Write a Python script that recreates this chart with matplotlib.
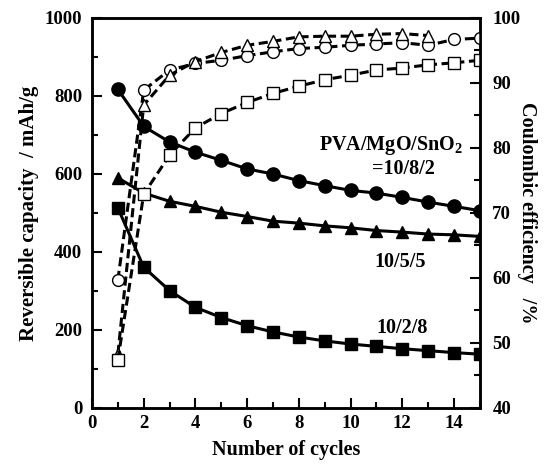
import matplotlib
matplotlib.use("Agg")
import matplotlib.pyplot as plt
from matplotlib.ticker import MultipleLocator

plt.rcParams['font.family'] = ['Liberation Serif', 'DejaVu Serif']
plt.rcParams['font.weight'] = 'bold'
plt.rcParams['mathtext.default'] = 'regular'

cycles = list(range(1, 16))
cap_1082 = [817, 722, 682, 656, 635, 613, 600, 583, 570, 558, 551, 540, 528, 517, 506]
cap_1055 = [590, 551, 530, 517, 502, 491, 479, 474, 467, 462, 455, 451, 446, 444, 440]
cap_1028 = [513, 361, 301, 258, 232, 211, 195, 182, 172, 164, 158, 152, 147, 142, 138]

ce_1082 = [59.7, 88.9, 92.0, 93.0, 93.5, 94.2, 94.8, 95.3, 95.5, 95.8, 96.0, 96.2, 95.8, 96.7, 96.9]
cycles_1055 = list(range(1, 14))
ce_1055 = [48.3, 86.6, 91.2, 93.3, 94.7, 95.8, 96.4, 97.1, 97.2, 97.2, 97.5, 97.6, 97.3]
ce_1028 = [47.4, 72.9, 78.9, 83.1, 85.3, 87.0, 88.4, 89.5, 90.5, 91.2, 92.0, 92.3, 92.8, 93.1, 93.5]

fig = plt.figure(figsize=(5.49, 4.65), dpi=100)
ax = fig.add_axes([0.1676, 0.1226, 0.7064, 0.8387])
ax2 = ax.twinx()

lw = 2.2
ax.plot(cycles, cap_1082, '-', color='black', lw=lw, marker='o', ms=9.5, zorder=3)
ax.plot(cycles, cap_1055, '-', color='black', lw=lw, marker='^', ms=8.5, zorder=3)
ax.plot(cycles, cap_1028, '-', color='black', lw=lw, marker='s', ms=8.5, zorder=3)

okw = dict(color='black', lw=2.2, mfc='white', mec='black', mew=1.0, dashes=(3, 1.5))
ax2.plot(cycles, ce_1082, '--', marker='o', ms=8.5, **okw)
ax2.plot(cycles_1055, ce_1055, '--', marker='^', ms=8.5, **okw)
ax2.plot(cycles, ce_1028, '--', marker='s', ms=8.5, **okw)

ax.set_xlim(0, 15)
ax.set_ylim(0, 1000)
ax2.set_ylim(40, 100)

ax.xaxis.set_major_locator(MultipleLocator(2))
ax.xaxis.set_minor_locator(MultipleLocator(1))
ax.yaxis.set_major_locator(MultipleLocator(200))
ax.yaxis.set_minor_locator(MultipleLocator(100))
ax2.yaxis.set_major_locator(MultipleLocator(10))
ax2.yaxis.set_minor_locator(MultipleLocator(5))

for a in (ax, ax2):
    a.tick_params(which='major', direction='in', length=7, width=1.5, labelsize=13.5)
    a.tick_params(which='minor', direction='in', length=4, width=1.5)
    for s in a.spines.values():
        s.set_linewidth(1.8)
ax.tick_params(axis='both', which='both', top=False, right=False)
ax.tick_params(axis='x', pad=5)
ax.tick_params(axis='y', pad=7)
ax2.tick_params(axis='y', pad=9)

ax.set_xlabel('Number of cycles', fontsize=14.5, fontweight='bold', labelpad=6)
ax.set_ylabel('Reversible capacity  / mAh/g', fontsize=15, fontweight='bold', labelpad=4)
ax2.set_ylabel('Coulombic efficiency   /%', fontsize=14.5, fontweight='bold', rotation=-90, labelpad=12)

ax.text(11.56, 672, 'PVA/MgO/SnO$_2$', fontsize=14.5, fontweight='bold', ha='center', va='center')
ax.text(12.06, 614, '=10/8/2', fontsize=14.5, fontweight='bold', ha='center', va='center')
ax.text(11.9, 374, '10/5/5', fontsize=14.5, fontweight='bold', ha='center', va='center')
ax.text(12.0, 206, '10/2/8', fontsize=14.5, fontweight='bold', ha='center', va='center')

fig.savefig('out.png', dpi=100)
